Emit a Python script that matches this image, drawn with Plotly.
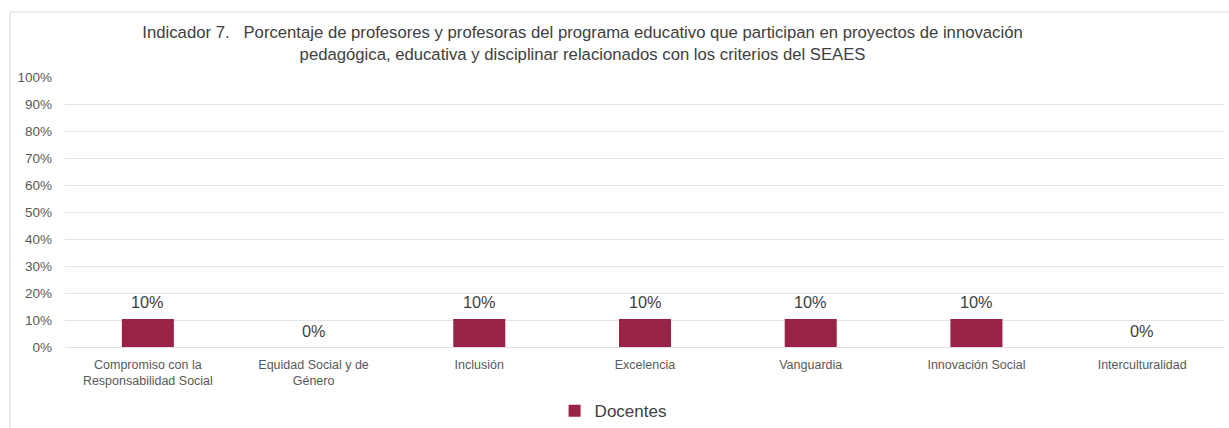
import plotly.graph_objects as go

categories = [
    "Compromiso con la<br>Responsabilidad Social",
    "Equidad Social y de<br>Género",
    "Inclusión",
    "Excelencia",
    "Vanguardia",
    "Innovación Social",
    "Interculturalidad",
]
docentes = [0.104, 0.0, 0.104, 0.104, 0.104, 0.104, 0.0]
y_ticks = [0, 0.1, 0.2, 0.3, 0.4, 0.5, 0.6, 0.7, 0.8, 0.9, 1.0]
title_text = ("Indicador 7.   Porcentaje de profesores y profesoras del programa educativo que participan en proyectos de innovación"
              "<br>pedagógica, educativa y disciplinar relacionados con los criterios del SEAES")

FONT = "Liberation Sans, Arial, Helvetica, sans-serif"
BAR = "#9b2247"

fig = go.Figure()
fig.add_trace(go.Bar(
    x=categories,
    y=docentes,
    name="Docentes",
    marker=dict(color=BAR, line=dict(width=0)),
))

# data labels derived from the values
annotations = [
    dict(x=c, y=v, xref="x", yref="y", text=f"{round(v * 100):.0f}%",
         showarrow=False, yanchor="middle", yshift=16.5,
         font=dict(size=16.3, color="#404040", family=FONT))
    for c, v in zip(categories, docentes)
]

fig.update_layout(
    width=1229, height=428,
    margin=dict(l=65, r=4, t=77, b=81, autoexpand=False),
    paper_bgcolor="white",
    plot_bgcolor="white",
    font=dict(family=FONT, color="#595959", size=12),
    bargap=0.686,
    showlegend=True,
    annotations=annotations,
    title=dict(
        text=title_text,
        x=0.474, xanchor="center", xref="container",
        y=0.911, yanchor="top", yref="container",
        font=dict(size=16.7, color="#404040", family=FONT),
    ),
    legend=dict(
        orientation="h",
        x=0.4725, xanchor="center",
        y=-0.171, yanchor="top",
        font=dict(size=17, color="#404040", family=FONT),
        itemwidth=30,
    ),
    xaxis=dict(
        automargin=False,
        showgrid=False,
        showline=False,
        tickfont=dict(size=12.5, color="#595959"),
        ticks="",
        ticklabelstandoff=8,
    ),
    yaxis=dict(
        automargin=False,
        range=[0, 1.0],
        tickvals=y_ticks,
        tickformat=".0%",
        showgrid=True,
        gridcolor="#e4e4e4",
        gridwidth=1,
        zeroline=True,
        zerolinecolor="#e0e0e0",
        zerolinewidth=1,
        showline=False,
        ticks="",
        ticklabelstandoff=12,
        tickfont=dict(size=13.5, color="#595959"),
    ),
    shapes=[
        dict(type="rect", xref="paper", yref="paper",
             x0=(10 - 65) / 1160, x1=1.02,
             y0=-0.5, y1=1 + (77 - 12) / 270,
             line=dict(color="#d9d9d9", width=1), fillcolor="rgba(0,0,0,0)",
             layer="below"),
    ],
)

fig.write_html("out.html", config={"displayModeBar": False},
               post_script="document.body.style.margin='0';")
